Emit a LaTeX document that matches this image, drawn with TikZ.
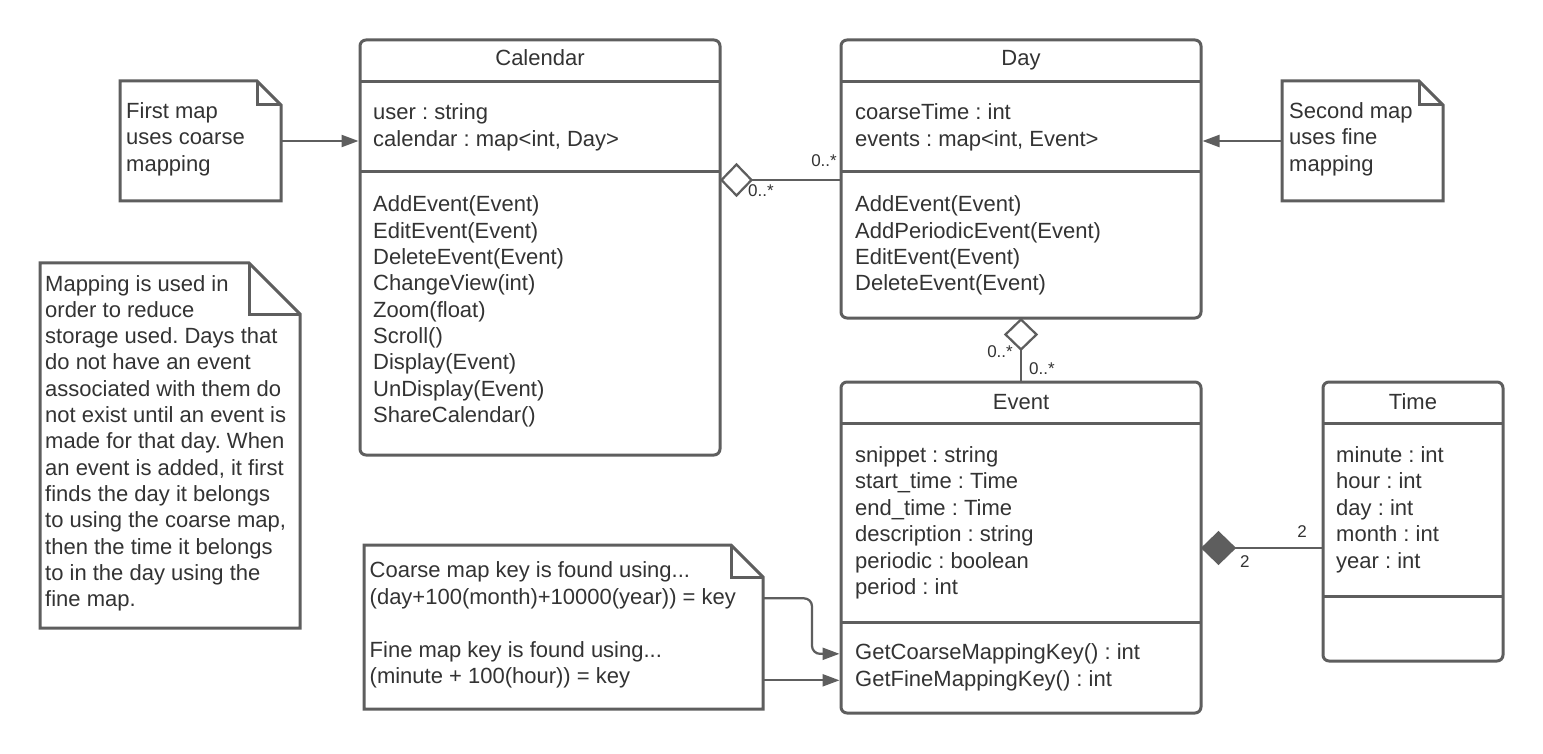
\documentclass[tikz,border=0pt]{standalone}
\usepackage{fontspec}
\setmainfont{Liberation Sans}
\frenchspacing
\usetikzlibrary{arrows.meta,shapes.geometric,calc}
\definecolor{ln}{HTML}{5E5E5E}
\definecolor{tx}{HTML}{333333}
\tikzset{
  classbox/.style={draw=ln, line width=3pt, rounded corners=6pt, fill=white, inner sep=0pt, outer sep=0pt},
  notebox/.style={inner sep=0pt, outer sep=0pt},
  notepath/.style={draw=ln, line width=3pt, fill=white, line join=miter},
  foldpath/.style={draw=ln, line width=3pt, line join=miter},
  divider/.style={draw=ln, line width=3pt},
  conn/.style={draw=ln, line width=2.25pt},
  arr/.style={conn, -{Triangle[length=17pt,width=12pt]}, shorten >=1.5pt},
  txt/.style={text=tx, font=\fontsize{22}{26}\selectfont\frenchspacing, inner sep=0pt, anchor=base west},
  ttl/.style={txt, anchor=base},
  mult/.style={text=tx, font=\fontsize{17}{20}\selectfont, inner sep=0pt},
  hollowdiam/.style={diamond, draw=ln, line width=2.25pt, fill=white, inner sep=0pt, outer sep=0pt},
  filldiam/.style={diamond, draw=ln, line width=2.25pt, fill=ln, inner sep=0pt, outer sep=0pt},
}
\newcommand\notedraw[2]{%
  \draw[notepath] (#1.north west) -- ([xshift=-#2]#1.north east) -- ([yshift=-#2]#1.north east) -- (#1.south east) -- (#1.south west) -- cycle;
  \draw[foldpath] ([xshift=-#2]#1.north east) -- ([xshift=-#2,yshift=-#2]#1.north east) -- ([yshift=-#2]#1.north east);
}
\begin{document}
\begin{tikzpicture}[x=1pt,y=-1pt]
\useasboundingbox (0,0) rectangle (1543,754);
\fill[white] (0,0) rectangle (1543,754);

% class boxes
\node[classbox, minimum width=360pt, minimum height=415pt] (cal) at (540,247.5) {};
\node[classbox, minimum width=360pt, minimum height=278pt] (day) at (1021,179) {};
\node[classbox, minimum width=360pt, minimum height=331pt] (ev) at (1021,547.5) {};
\node[classbox, minimum width=180pt, minimum height=279pt] (tm) at (1413,521.5) {};

\draw[divider] (cal.west |- 0,82) -- (cal.east |- 0,82);
\draw[divider] (cal.west |- 0,172) -- (cal.east |- 0,172);
\draw[divider] (day.west |- 0,82) -- (day.east |- 0,82);
\draw[divider] (day.west |- 0,172) -- (day.east |- 0,172);
\draw[divider] (ev.west |- 0,423) -- (ev.east |- 0,423);
\draw[divider] (ev.west |- 0,622) -- (ev.east |- 0,622);
\draw[divider] (tm.west |- 0,423) -- (tm.east |- 0,423);
\draw[divider] (tm.west |- 0,596) -- (tm.east |- 0,596);

% titles
\node[ttl] (calt) at (cal.north |- 0,66) {Calendar};
\node[ttl] (dayt) at (day.north |- 0,66) {Day};
\node[ttl] (evt) at (ev.north |- 0,409) {Event};
\node[ttl] (tmt) at (tm.north |- 0,409) {Time};

% Calendar
\foreach \t [count=\i] in {user : string, {calendar : map<int, Day>}}
  \node[txt] (cala\i) at (373,{120+(\i-1)*26.5}) {\t};
\foreach \t [count=\i] in {AddEvent(Event), EditEvent(Event), DeleteEvent(Event), ChangeView(int), Zoom(float), Scroll(), Display(Event), UnDisplay(Event), ShareCalendar()}
  \node[txt] (calm\i) at (373,{212+(\i-1)*26.3}) {\t};

% Day
\foreach \t [count=\i] in {coarseTime : int, {events : map<int, Event>}}
  \node[txt] (daya\i) at (855,{120+(\i-1)*26.5}) {\t};
\foreach \t [count=\i] in {AddEvent(Event), AddPeriodicEvent(Event), EditEvent(Event), DeleteEvent(Event)}
  \node[txt] (daym\i) at (855,{212+(\i-1)*26.3}) {\t};

% Event
\foreach \t [count=\i] in {snippet : string, start\_time : Time, end\_time : Time, description : string, periodic : boolean, period : int}
  \node[txt] (eva\i) at (855,{462+(\i-1)*26.5}) {\t};
\foreach \t [count=\i] in {GetCoarseMappingKey() : int, GetFineMappingKey() : int}
  \node[txt] (evm\i) at (855,{659.5+(\i-1)*26.5}) {\t};

% Time
\foreach \t [count=\i] in {minute : int, hour : int, day : int, month : int, year : int}
  \node[txt] (tma\i) at (1336,{462+(\i-1)*26.5}) {\t};

% notes
\node[notebox, minimum width=161pt, minimum height=120pt] (n1) at (200.5,141) {};
\notedraw{n1}{24pt}
\foreach \t [count=\i] in {First map, uses coarse, mapping}
  \node[txt] (n1l\i) at (126,{118.5+(\i-1)*26.5}) {\t};

\node[notebox, minimum width=161pt, minimum height=120pt] (n2) at (1362.5,141) {};
\notedraw{n2}{24pt}
\foreach \t [count=\i] in {Second map, uses fine, mapping}
  \node[txt] (n2l\i) at (1289,{118.5+(\i-1)*26.5}) {\t};

\node[notebox, minimum width=260pt, minimum height=365pt] (n3) at (170,445.5) {};
\notedraw{n3}{51pt}
\foreach \t [count=\i] in {Mapping is used in, order to reduce, storage used. Days that, do not have an event, associated with them do, not exist until an event is, made for that day. When, {an event is added, it first}, finds the day it belongs, {to using the coarse map,}, then the time it belongs, to in the day using the, fine map.}
  \node[txt] (n3l\i) at (45,{291+(\i-1)*26.33}) {\t};

\node[notebox, minimum width=399pt, minimum height=164pt] (n4) at (563.5,627) {};
\notedraw{n4}{32pt}
\node[txt] (n4l1) at (369.5,577.5) {Coarse map key is found using...};
\node[txt] (n4l2) at (369.5,604) {(day+100(month)+10000(year)) = key};
\node[txt] (n4l4) at (369.5,657) {Fine map key is found using...};
\node[txt] (n4l5) at (369.5,683.5) {(minute + 100(hour)) = key};

% note connectors
\draw[arr] (n1.east) -- (n1.east -| cal.west);
\draw[arr] (n2.west) -- (n2.west -| day.east);
\coordinate (bend) at ([xshift=49pt]n4.east);
\draw[arr, rounded corners=8pt] (n4.east |- n4l2) -| (bend) |- (ev.west |- evm1);
\draw[arr] (n4.east |- evm2) -- (ev.west |- evm2);

% Calendar - Day aggregation
\coordinate (c1) at (cal.east |- 0,180);
\node[hollowdiam, minimum width=30pt, minimum height=31pt, anchor=west] (dm1) at ([xshift=1.5pt]c1) {};
\draw[conn] (dm1.east) -- (dm1.east -| day.west);
\node[mult, anchor=base east] (m1) at (837,167) {0..*};
\node[mult, anchor=base west] (m2) at (748,197) {0..*};

% Day - Event aggregation
\node[hollowdiam, minimum width=31pt, minimum height=30pt, anchor=north] (dm2) at ([yshift=-1.5pt]day.south) {};
\draw[conn] (dm2.south) -- (dm2.south |- ev.north);
\node[mult, anchor=base east] (m3) at (1013,357) {0..*};
\node[mult, anchor=base west] (m4) at (1029,374) {0..*};

% Event - Time composition
\coordinate (c3) at (ev.east |- 0,548);
\node[filldiam, minimum width=32pt, minimum height=31pt, anchor=west] (dm3) at ([xshift=1.5pt]c3) {};
\draw[conn] (dm3.east) -- (dm3.east -| tm.west);
\node[mult, anchor=base east] (m5) at (1307,537) {2};
\node[mult, anchor=base west] (m6) at (1240,567) {2};
\end{tikzpicture}
\end{document}
